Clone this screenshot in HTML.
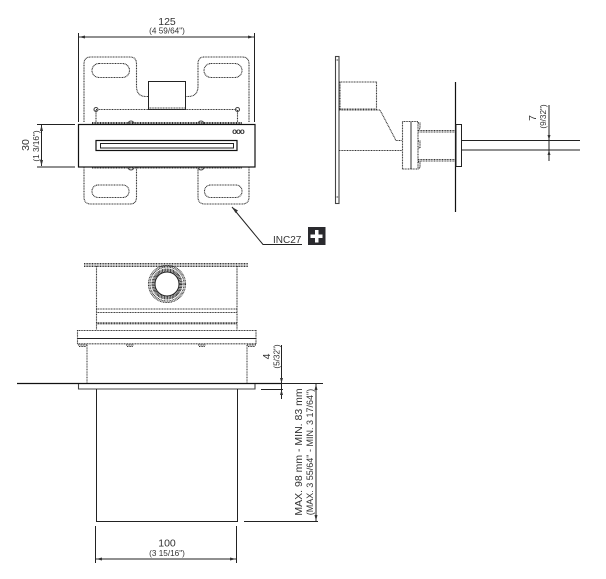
<!DOCTYPE html>
<html><head><meta charset="utf-8"><style>
html,body{margin:0;padding:0;background:#fff}
svg{display:block}
text{font-family:"Liberation Sans",sans-serif;fill:#333}
.s{fill:none;stroke:#222;stroke-width:1}
.b{fill:none;stroke:#111;stroke-width:1.2}
.d{fill:none;stroke:#333;stroke-width:1.1;stroke-dasharray:1 .6}
.t{fill:none;stroke:#444;stroke-width:1.1}
.a{fill:#333;stroke:none}
</style></head><body>
<svg width="606" height="579" viewBox="0 0 606 579" xmlns="http://www.w3.org/2000/svg">
<rect width="606" height="579" fill="#fff"/>

<!-- top view dims -->
<path class="s" d="M78.500 33V122M254.500 33V122M79 37H254"/>
<path class="a" d="M79 37l6-1.500v3zM254 37l-6-1.500v3z"/>
<text x="167" y="25" font-size="10.500" text-anchor="middle">125</text>
<text x="167" y="33.500" font-size="8.200" text-anchor="middle">(4 59/64")</text>

<!-- plates -->
<path class="d" d="M84 122V64Q84 57 91 57H130Q136.500 57 136.500 64V86Q136.500 96.500 146 96.500H148.500"/>
<path class="d" d="M249 122V64Q249 57 242 57H204Q198 57 198 64V86Q198 96.500 188 96.500H185.500"/>
<rect class="d" x="92" y="63.500" width="37.500" height="14" rx="7"/>
<rect class="d" x="204" y="63.500" width="38" height="14" rx="7"/>
<rect class="s" x="148.500" y="81.500" width="37" height="28" stroke="#444"/>
<path class="d" d="M96 109.500H237M96 110V122M237.500 110V122M92 122.500H242M92 123.500H242"/>
<path class="d" d="M148.500 108H185.500"/>
<circle class="t" cx="96" cy="109.500" r="2"/><circle class="t" cx="237.500" cy="109.500" r="2"/>
<path class="t" d="M128 124a3 3 0 0 1 6 0M198 124a3 3 0 0 1 6 0"/>

<!-- body -->
<rect class="b" x="78.500" y="124.500" width="176.500" height="42.500" fill="#fff"/>
<rect class="b" x="96" y="140.500" width="141" height="10"/>
<rect class="s" x="100.500" y="143.500" width="133" height="4.500"/>
<text x="238" y="134" font-size="8" font-weight="bold" letter-spacing="-1" text-anchor="middle" fill="#222">ooo</text>

<!-- lower plates -->
<path class="d" d="M84 167V197Q84 204 91 204H130Q136.500 204 136.500 197V167"/>
<path class="d" d="M198 167V197Q198 204 205 204H242Q249 204 249 197V167"/>
<rect class="d" x="92" y="185" width="37" height="12.500" rx="6"/>
<rect class="d" x="204.500" y="185" width="37.500" height="12.500" rx="6"/>
<path class="d" d="M92 168H242"/>
<path class="t" d="M128 167a3 3 0 0 0 6 0M198 167a3 3 0 0 0 6 0"/>

<!-- dim 30 -->
<path class="s" d="M37 124.500H75M37 167H75M41.500 125V166"/>
<path class="a" d="M41.500 125l-1.500 6h3zM41.500 166l-1.500-6h3z"/>
<text transform="translate(29 145) rotate(-90)" font-size="10.500" text-anchor="middle">30</text>
<text transform="translate(39 146) rotate(-90)" font-size="8.200" text-anchor="middle">(1 3/16")</text>

<!-- leader -->
<path class="s" d="M232 207L263 244.500H302"/>
<path class="a" d="M232 207l6 3.500-2.500 2.500z"/>
<text x="273" y="243" font-size="10">INC27</text>
<rect x="308" y="227" width="17.500" height="18" fill="#2a2a2e"/>
<path fill="#fff" d="M315 230h3.500v4.500h4v3.500h-4v4.500h-3.500v-4.500h-4.500v-3.500h4.500z"/>

<!-- side view -->
<rect class="t" x="335.500" y="56.500" width="3.500" height="147"/>
<path class="d" d="M335.500 60H339M335.500 197H339"/>
<path class="d" d="M339.500 82H376.500V110M340 82V110M339 110H380L396 140.500H402M339 109H376"/>
<path class="d" d="M339 150.500H402"/>
<rect class="d" x="402.500" y="121.500" width="15.500" height="47.500"/>
<path class="t" d="M411 121.500V169"/>
<path class="d" d="M418 123h2v6h-2M418 141h2v7h-2M418 162h2v6h-2"/>
<path class="d" d="M418 130.500H455M418 132H455M418 159.500H455M418 161H455"/>
<path class="b" d="M455.500 82V212"/>
<rect class="s" x="456" y="124.500" width="5.500" height="42"/>
<path class="s" d="M461.500 140.500H580M461.500 150H580"/>
<path class="s" d="M549 105V161"/>
<path class="a" d="M549 140l-1.500-5h3zM549 150l-1.500 5h3z"/>
<text transform="translate(536 118) rotate(-90)" font-size="10.500" text-anchor="middle">7</text>
<text transform="translate(546 116.500) rotate(-90)" font-size="8.200" text-anchor="middle">(9/32")</text>

<!-- front view -->
<path class="d" d="M84 263.500H248M84 265H248M84 266.500H248"/>
<path class="d" d="M96.500 266V330M237 266V330"/>
<circle class="d" cx="167" cy="284" r="18.500"/>
<circle class="d" cx="167" cy="284" r="17"/>
<circle class="d" cx="167" cy="284" r="15"/>
<circle class="d" cx="167" cy="284" r="14"/>
<circle class="d" cx="167" cy="284" r="13"/>
<circle class="s" cx="167" cy="284" r="12"/>
<path class="d" d="M96.500 309H237M96.500 312.500H237M96.500 322.800H237M96.500 323.800H237"/>
<path class="d" d="M77.500 330.500H256M77.500 330V344M256 330V344M77.500 343.800H256"/>
<path class="s" d="M77.500 338.500H256" stroke="#333"/>
<path class="d" d="M78 345H87M126 345H134M198 345H206M247 345H256M79 346.500H86M127 346.500H133M199 346.500H205M248 346.500H255"/>
<path class="t" stroke-dasharray="1 .6" d="M87 345V382.500M247 345V382.500"/>
<path class="b" d="M17 383.500H281"/>
<path class="t" d="M78.500 384V389H255V384"/>
<path class="s" d="M96.500 389V521.500H237.500V389"/>

<!-- dims bottom -->
<path class="s" d="M261 389.500H283M281.500 345V399M281 383.500H323M244 521.500H318M316 384V521"/>
<path class="a" d="M281.500 383l-1.500-5h3zM281.500 390l-1.500 5h3zM316 384l-1.500 6h3zM316 521l-1.500-6h3z"/>
<text transform="translate(270 356.500) rotate(-90)" font-size="10.500" text-anchor="middle">4</text>
<text transform="translate(279.500 356.500) rotate(-90)" font-size="8.200" text-anchor="middle">(5/32")</text>
<text transform="translate(302 452) rotate(-90)" font-size="10.500" text-anchor="middle">MAX. 98 mm - MIN. 83 mm</text>
<text transform="translate(313 452) rotate(-90)" font-size="9" text-anchor="middle">(MAX. 3 55/64" - MIN. 3 17/64")</text>

<path class="s" d="M95.500 526V563M236.500 526V563M96 559H236"/>
<path class="a" d="M96 559l6-1.500v3zM236 559l-6-1.500v3z"/>
<text x="167" y="546.500" font-size="10.500" text-anchor="middle">100</text>
<text x="167" y="556" font-size="8.200" text-anchor="middle">(3 15/16")</text>
</svg>
</body></html>
